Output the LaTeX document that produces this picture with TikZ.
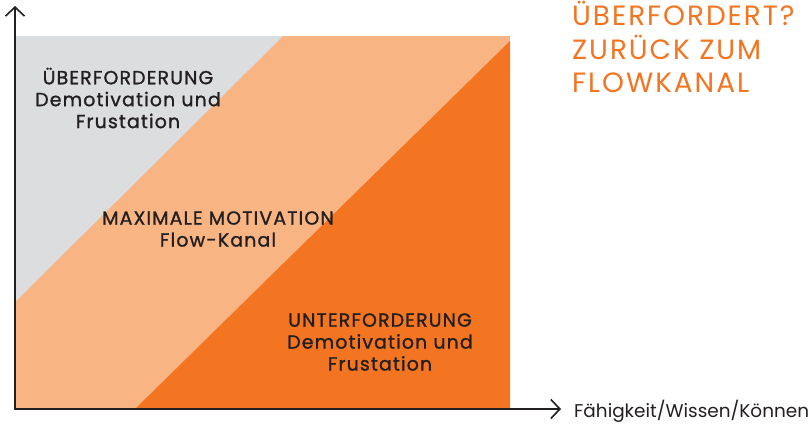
\documentclass[tikz,border=0pt]{standalone}
\usepackage{fontspec}
\setmainfont{Poppins}
\newfontfamily\zonefont{Poppins}[LetterSpace=6, FakeBold=1.2]
\newfontfamily\headfont{Poppins}[LetterSpace=7]
\usetikzlibrary{arrows.meta}
\definecolor{greyarea}{HTML}{DCDDDF}
\definecolor{flowarea}{HTML}{F8B482}
\definecolor{lowarea}{HTML}{F37521}
\definecolor{textdark}{HTML}{231F20}

\begin{document}
\begin{tikzpicture}[x=1bp, y=-1bp, zone/.style={align=center, text=textdark, inner sep=0pt, font=\zonefont\fontsize{19}{22}\selectfont}, axis/.style={line width=1.6bp, draw=textdark, {Straight Barb[length=9bp,width=19bp]}-{Straight Barb[length=9bp,width=19bp]}}, headline/.style={align=left, text=lowarea, inner sep=0pt, font=\headfont\fontsize{28}{33.3}\selectfont}]
            \useasboundingbox (0,0) rectangle (812,423);
            % areas
            \fill[flowarea] (16,36) rectangle (510,408);
            \fill[greyarea] (16,36) -- (283,36) -- (16,301) -- cycle;
            \fill[lowarea] (136,408) -- (510,41) -- (510,408) -- cycle;
            % nodes
            \coordinate (origin) at (15,409);
            \coordinate (ytop) at (15,6);
            \coordinate (xend) at (561,409);

            \node[zone] (over) at (128,98) {ÜBERFORDERUNG\\Demotivation und\\Frustation};
            \node[zone] (flow) at (218,229) {MAXIMALE MOTIVATION\\Flow-Kanal};
            \node[zone] (under) at (380,342) {UNTERFORDERUNG\\Demotivation und\\Frustation};

            \node[headline, anchor=west] (back) at (572,47) {ÜBERFORDERT?\\ZURÜCK ZUM\\FLOWKANAL};
            \node[anchor=west, inner sep=0pt, text=textdark, font=\fontsize{18.5}{20}\selectfont] (xlabel) at (574,411) {Fähigkeit/Wissen/Können};
            % edges
            \draw[axis] (ytop) -- (origin) -- (xend);
        \end{tikzpicture}
\end{document}
